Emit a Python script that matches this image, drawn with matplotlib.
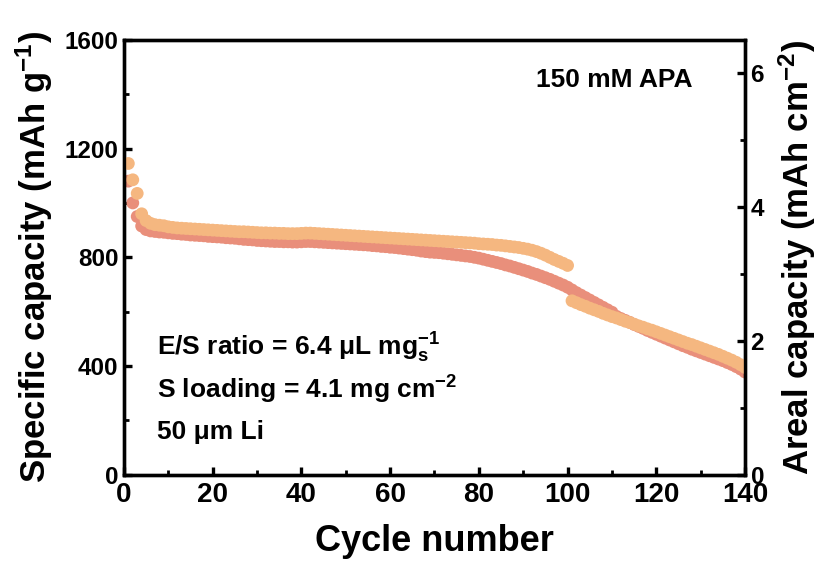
import matplotlib.pyplot as plt
from matplotlib.ticker import MultipleLocator

plt.rcParams['font.family'] = ['Liberation Sans', 'DejaVu Sans']
plt.rcParams['font.weight'] = 'bold'
plt.rcParams['mathtext.fontset'] = 'custom'
plt.rcParams['mathtext.rm'] = 'Liberation Sans:bold'
plt.rcParams['mathtext.it'] = 'Liberation Sans:bold'
plt.rcParams['mathtext.bf'] = 'Liberation Sans:bold'

cycles = list(range(1, 141))

# discharge capacity, mAh g-1 (salmon)
cap_a = [1080, 1000, 950, 915, 902, 897, 895, 893, 892, 890,
         888, 887, 885, 884, 882, 881, 880, 879, 877, 876,
         875, 874, 872, 871, 870, 868, 866, 865, 864, 862,
         861, 860, 859, 858, 858, 857, 857, 856, 856, 857,
         858, 858, 857, 856, 855, 854, 853, 852, 851, 850,
         849, 848, 847, 846, 845, 843, 842, 840, 839, 837,
         836, 834, 832, 830, 828, 826, 823, 821, 819, 818,
         817, 815, 813, 811, 809, 807, 805, 803, 800, 797,
         793, 789, 785, 781, 777, 772, 768, 763, 758, 753,
         748, 742, 737, 731, 725, 719, 712, 705, 698, 690,
         680, 670, 661, 652, 643, 634, 625, 616, 607, 598,
         583, 575, 568, 561, 553, 546, 539, 531, 524, 517,
         510, 503, 496, 489, 482, 475, 469, 462, 456, 450,
         444, 438, 432, 426, 420, 413, 406, 398, 389, 378]

# second cell (orange)
cap_b = [1145, 1085, 1035, 960, 935, 925, 920, 918, 916, 912,
         910, 908, 907, 906, 905, 904, 903, 902, 901, 900,
         899, 898, 897, 896, 895, 894, 894, 893, 892, 891,
         890, 890, 889, 889, 888, 888, 887, 887, 887, 888,
         889, 889, 888, 887, 886, 885, 884, 883, 882, 881,
         880, 879, 878, 877, 876, 875, 874, 873, 872, 871,
         870, 869, 868, 867, 866, 865, 864, 863, 862, 861,
         860, 859, 858, 857, 856, 855, 854, 853, 852, 850,
         849, 848, 847, 845, 844, 842, 840, 838, 836, 833,
         830, 826, 821, 815, 808, 800, 792, 785, 778, 770,
         640, 633, 626, 620, 613, 607, 601, 594, 588, 582,
         577, 571, 565, 560, 554, 548, 543, 537, 532, 526,
         520, 514, 508, 502, 496, 490, 484, 479, 473, 467,
         461, 455, 449, 443, 436, 429, 422, 414, 405, 395]

fig = plt.figure(figsize=(8.26, 5.68), dpi=100)
ax = fig.add_axes([0.150, 0.164, 0.752, 0.766])

ax.scatter(cycles, cap_a, s=85, color='#E98F7B', edgecolors='none', zorder=2)
ax.scatter(cycles, cap_b, s=85, color='#F5B780', edgecolors='none', zorder=3)

ax.set_xlim(0, 140)
ax.set_ylim(0, 1600)
ax.xaxis.set_major_locator(MultipleLocator(20))
ax.xaxis.set_minor_locator(MultipleLocator(10))
ax.yaxis.set_major_locator(MultipleLocator(400))
ax.yaxis.set_minor_locator(MultipleLocator(200))

ax2 = ax.twinx()
ax2.set_ylim(0, 6.5)
ax2.yaxis.set_major_locator(MultipleLocator(2))
ax2.yaxis.set_minor_locator(MultipleLocator(1))

for a in (ax, ax2):
    for sp in a.spines.values():
        sp.set_linewidth(2.4)
    a.tick_params(which='major', direction='in', length=6, width=2.4, labelsize=17.5, pad=4)
    a.tick_params(which='minor', direction='in', length=3.5, width=2.0)
ax.tick_params(which='both', top=False, right=False)
ax.tick_params(axis='x', labelsize=20, pad=5)
ax2.tick_params(which='both', left=False)
for lab in ax.get_xticklabels() + ax.get_yticklabels() + ax2.get_yticklabels():
    lab.set_fontweight('bold')

ax.set_xlabel('Cycle number', fontsize=26, fontweight='bold', labelpad=12)
ax.set_ylabel('Specific capacity (mAh g$^{\\mathregular{-1}}$)', fontsize=25, fontweight='bold', labelpad=7)
ax2.set_ylabel('Areal capacity (mAh cm$^{\\mathregular{-2}}$)', fontsize=25, fontweight='bold', labelpad=9)

ax.text(0.79, 0.908, '150 mM APA', transform=ax.transAxes, fontsize=19,
        fontweight='bold', ha='center', va='center')
ax.text(0.053, 0.292, 'E/S ratio = 6.4 μL mg$_{\\mathregular{s}}^{\\mathregular{-1}}$',
        transform=ax.transAxes, fontsize=19, fontweight='bold', ha='left', va='center')
ax.text(0.053, 0.195, 'S loading = 4.1 mg cm$^{\\mathregular{-2}}$',
        transform=ax.transAxes, fontsize=19, fontweight='bold', ha='left', va='center')
ax.text(0.053, 0.099, '50 μm Li', transform=ax.transAxes, fontsize=19,
        fontweight='bold', ha='left', va='center')

fig.savefig('out.png', dpi=100)
